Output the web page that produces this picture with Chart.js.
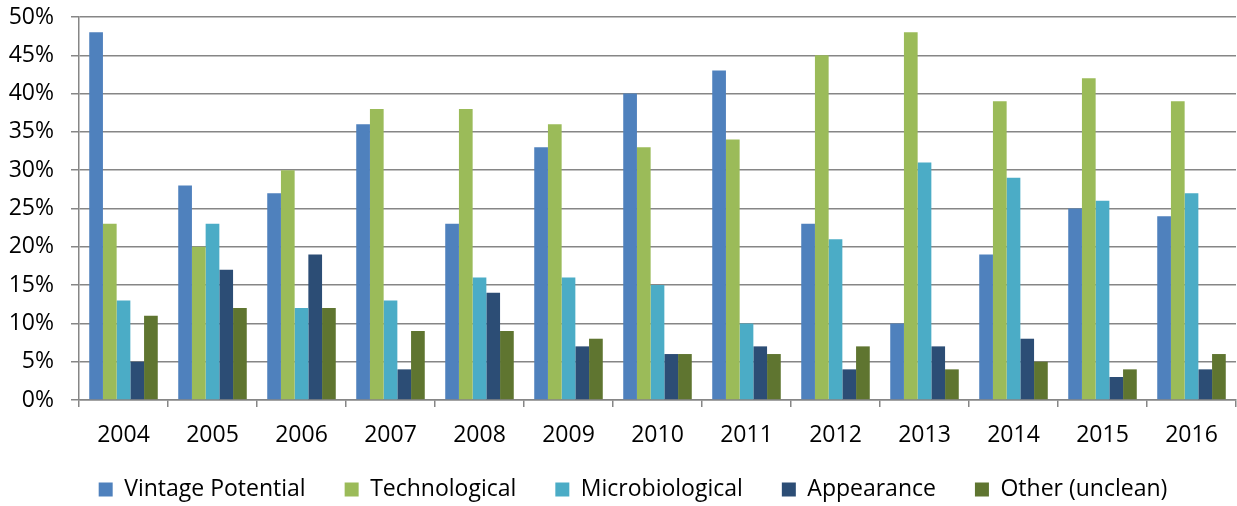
<!DOCTYPE html>
<html>
<head>
<meta charset="utf-8">
<script src="https://cdn.jsdelivr.net/npm/chart.js@4"></script>
<style>
  html, body { margin: 0; padding: 0; background: #fff; }
  #wrap { width: 1237px; height: 506px; }
</style>
</head>
<body>
<div id="wrap"><canvas id="chart"></canvas></div>
<script>
const years = ['2004','2005','2006','2007','2008','2009','2010','2011','2012','2013','2014','2015','2016'];

const vintagePotential = [48, 28, 27, 36, 23, 33, 40, 43, 23, 10, 19, 25, 24];
const technological    = [23, 20, 30, 38, 38, 36, 33, 34, 45, 48, 39, 42, 39];
const microbiological  = [13, 23, 12, 13, 16, 16, 15, 10, 21, 31, 29, 26, 27];
const appearance       = [5, 17, 19, 4, 14, 7, 6, 7, 4, 7, 8, 3, 4];
const otherUnclean     = [11, 12, 12, 9, 9, 8, 6, 6, 7, 4, 5, 4, 6];

const yTicks = [0, 5, 10, 15, 20, 25, 30, 35, 40, 45, 50];

const tickFont = { family: '"Open Sans", sans-serif', size: 23 };
const legendFont = { family: '"Open Sans", sans-serif', size: 23 };

function series(label, data, color) {
    return {
        label: label,
        data: data,
        backgroundColor: color,
        borderWidth: 0,
        categoryPercentage: 0.77,
        barPercentage: 1.0
    };
}

// the legend in the original sits a little right of centre and a bit higher
const shiftLegend = {
    id: 'shiftLegend',
    afterLayout(chart) {
        chart.legend.left += 15;
        chart.legend.right += 15;
        chart.legend.top -= 3;
        chart.legend.bottom -= 3;
    }
};

const ctx = document.getElementById('chart').getContext('2d');
const chart = new Chart(ctx, {
    type: 'bar',
    data: {
        labels: years,
        datasets: [
            series('Vintage Potential', vintagePotential, '#4F81BD'),
            series('Technological', technological, '#9BBB59'),
            series('Microbiological', microbiological, '#4BACC6'),
            series('Appearance', appearance, '#2C4D75'),
            series('Other (unclean)', otherUnclean, '#5F7530')
        ]
    },
    plugins: [shiftLegend],
    options: {
        responsive: true,
        maintainAspectRatio: false,
        animation: false,
        layout: { padding: { top: 17, right: 1, left: 0, bottom: 0 } },
        scales: {
            x: {
                afterFit: function (scale) { scale.height = 42; },
                grid: {
                    offset: true,
                    drawOnChartArea: false,
                    drawTicks: true,
                    tickLength: 7,
                    color: '#868686',
                    lineWidth: 1.5
                },
                border: { display: true, color: '#868686', width: 1.5 },
                ticks: { color: '#000', font: tickFont, padding: 15 }
            },
            y: {
                min: 0,
                max: 50,
                afterBuildTicks: function (scale) {
                    scale.ticks = yTicks.map(v => ({ value: v }));
                },
                afterFit: function (scale) {
                    scale.width = 79;
                    scale.paddingTop = 0;
                    scale.paddingBottom = 0;
                },
                grid: {
                    color: '#868686',
                    lineWidth: 1.5,
                    tickLength: 8
                },
                border: { display: true, color: '#868686', width: 1.5 },
                ticks: {
                    color: '#000',
                    font: tickFont,
                    padding: 17,
                    callback: v => v + '%'
                }
            }
        },
        plugins: {
            legend: {
                position: 'bottom',
                labels: {
                    color: '#000',
                    font: legendFont,
                    boxWidth: 14,
                    boxHeight: 14,
                    padding: 39
                }
            },
            tooltip: { enabled: false }
        }
    }
});

// keep the legend band the same height as in the original
const legendFit = chart.legend.fit;
chart.legend.fit = function () {
    legendFit.call(this);
    this.height = 64;
};
chart.update();
</script>
</body>
</html>
